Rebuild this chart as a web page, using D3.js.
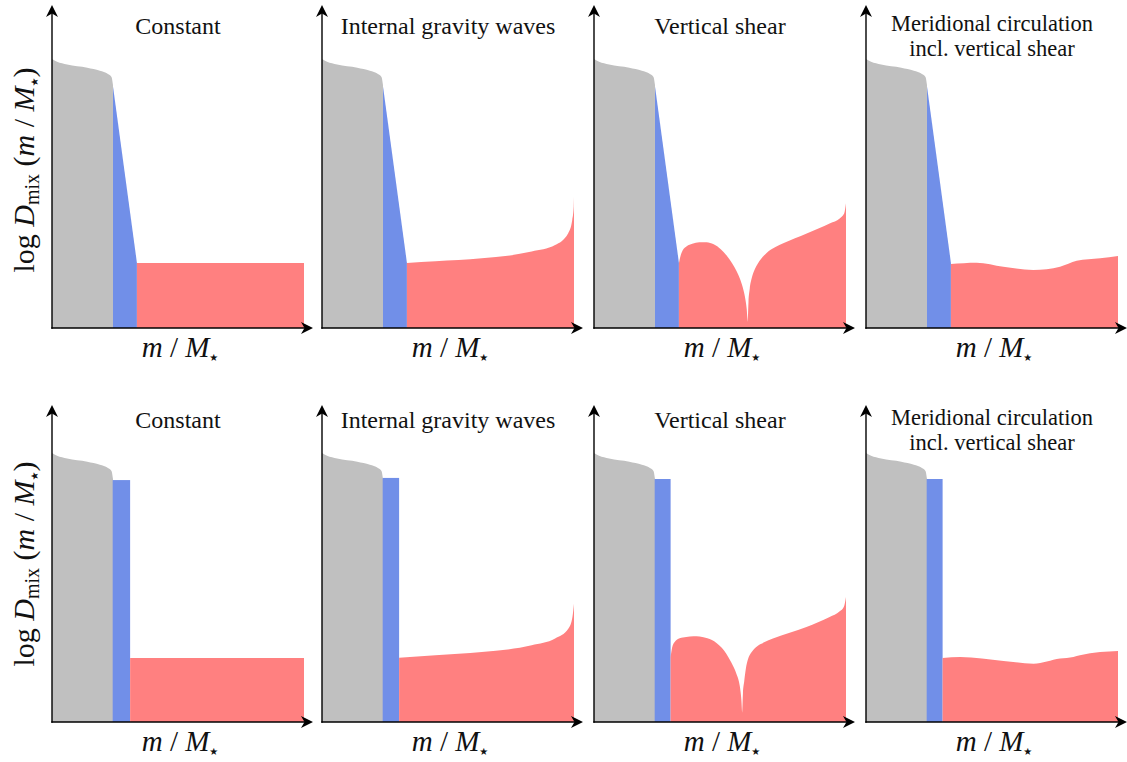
<!DOCTYPE html>
<html><head><meta charset="utf-8">
<script src="https://cdn.jsdelivr.net/npm/d3@7"></script>
<style>html,body{margin:0;padding:0;background:#fff;} svg{display:block}</style>
</head><body>
<svg id="c" width="1127" height="762"></svg>
<script>
// ---------- text ----------
const panelTitles = [["Constant"], ["Internal gravity waves"], ["Vertical shear"], ["Meridional circulation", "incl. vertical shear"]];

// ---------- convective core (gray), same in every panel ----------
const coreX = [0, 0.02, 0.06, 0.14, 0.19, 0.222, 0.236, 0.242];
const coreY = [0.996, 0.986, 0.976, 0.964, 0.953, 0.941, 0.93, 0.90];

// ---------- overshoot (blue) ----------
// top row: exponentially decaying overshoot
const ovTopX = [0.242, 0.337];
const ovTopY = [0.895, 0.241];
// bottom row: step overshoot (left edge, right edge) and height
const ovBotLeft = [0.242, 0.242, 0.242, 0.242];
const ovBotRight = [0.31, 0.306, 0.304, 0.304];
const ovBotHeight = [0.896, 0.904, 0.90, 0.90];

// ---------- envelope mixing (red), top row ----------
const constTopX = [0.337, 1.0];
const constTopY = [0.241, 0.241];
const igwTopX = [0.337, 0.45, 0.634, 0.832, 0.925, 0.977, 0.993, 0.999, 1.0];
const igwTopY = [0.241, 0.247, 0.258, 0.283, 0.307, 0.351, 0.40, 0.45, 0.486];
const shearTopX = [0.337, 0.342, 0.352, 0.368, 0.39, 0.418, 0.447, 0.475, 0.503, 0.527, 0.548, 0.566, 0.581, 0.593, 0.601, 0.606, 0.61, 0.613, 0.618, 0.626, 0.636, 0.648, 0.665, 0.685, 0.72, 0.751, 0.844, 0.937, 0.975, 0.993, 1.0];
const shearTopY = [0.24, 0.262, 0.288, 0.303, 0.312, 0.318, 0.318, 0.31, 0.292, 0.268, 0.24, 0.21, 0.178, 0.141, 0.105, 0.07, 0.023, 0.095, 0.145, 0.185, 0.213, 0.235, 0.258, 0.278, 0.3, 0.314, 0.35, 0.388, 0.406, 0.425, 0.462];
const merTopX = [0.337, 0.439, 0.545, 0.664, 0.77, 0.836, 0.929, 1.0];
const merTopY = [0.237, 0.242, 0.227, 0.215, 0.227, 0.249, 0.258, 0.267];

// ---------- envelope mixing (red), bottom row ----------
const constBotX = [0.31, 1.0];
const constBotY = [0.237, 0.237];
const igwBotX = [0.306, 0.45, 0.634, 0.832, 0.925, 0.978, 0.994, 1.0];
const igwBotY = [0.238, 0.247, 0.259, 0.284, 0.309, 0.346, 0.39, 0.438];
const shearBotX = [0.304, 0.309, 0.32, 0.34, 0.366, 0.395, 0.419, 0.45, 0.486, 0.507, 0.525, 0.545, 0.565, 0.575, 0.581, 0.585, 0.588, 0.591, 0.596, 0.603, 0.611, 0.625, 0.644, 0.675, 0.71, 0.843, 0.935, 0.975, 0.992, 1.0];
const shearBotY = [0.241, 0.27, 0.296, 0.31, 0.315, 0.318, 0.317, 0.31, 0.293, 0.275, 0.253, 0.22, 0.179, 0.15, 0.117, 0.08, 0.035, 0.105, 0.15, 0.2, 0.232, 0.258, 0.278, 0.295, 0.309, 0.352, 0.389, 0.41, 0.428, 0.463];
const merBotX = [0.304, 0.374, 0.546, 0.665, 0.77, 0.823, 0.849, 0.929, 1.0];
const merBotY = [0.237, 0.241, 0.226, 0.216, 0.235, 0.241, 0.247, 0.259, 0.263];

// ---------- layout ----------
const panelLeft = [52, 322, 594, 866];
const rowBase = [328, 722];
const rowTip = [5, 405];
const plotW = 252, plotH = 270, xArrow = 261;
const colGray = "#c0c0c0", colBlue = "#718fe8", colRed = "#ff8080";
const serif = "'Liberation Serif', 'Times New Roman', serif";

const svg = d3.select("#c");
const zip = (xs, ys) => xs.map((x, i) => [x, ys[i]]);

const redTop = [zip(constTopX, constTopY), zip(igwTopX, igwTopY), zip(shearTopX, shearTopY), zip(merTopX, merTopY)];
const redBot = [zip(constBotX, constBotY), zip(igwBotX, igwBotY), zip(shearBotX, shearBotY), zip(merBotX, merBotY)];

function arrowHead(g, x, y, angle) {
  g.append("path")
    .attr("d", "M0,0 L-12,-6 L-8.5,0 L-12,6 Z")
    .attr("transform", `translate(${x},${y}) rotate(${angle})`)
    .attr("fill", "#000");
}

function mathLabel(sel, parts) {
  parts.forEach(pt => {
    const t = sel.append("tspan").text(pt.t);
    if (pt.i) t.attr("font-style", "italic");
    if (pt.s) t.attr("font-size", pt.s);
    if (pt.dy) t.attr("dy", pt.dy);
    if (pt.f) t.attr("font-family", pt.f);
  });
}
const starFont = "'DejaVu Sans', sans-serif";

for (let r = 0; r < 2; r++) {
  for (let p = 0; p < 4; p++) {
    const x = d3.scaleLinear().domain([0, 1]).range([panelLeft[p], panelLeft[p] + plotW]);
    const y = d3.scaleLinear().domain([0, 1]).range([rowBase[r], rowBase[r] - plotH]);
    const g = svg.append("g");
    const smooth = d3.area().x(d => x(d[0])).y0(y(0)).y1(d => y(d[1])).curve(d3.curveMonotoneX);
    const lin = d3.area().x(d => x(d[0])).y0(y(0)).y1(d => y(d[1]));

    // core
    g.append("path").attr("d", smooth(zip(coreX, coreY))).attr("fill", colGray);
    // overshoot
    if (r === 0) {
      g.append("path").attr("d", lin(zip(ovTopX, ovTopY))).attr("fill", colBlue);
    } else {
      g.append("rect")
        .attr("x", x(ovBotLeft[p]) - 0.3).attr("y", y(ovBotHeight[p]))
        .attr("width", x(ovBotRight[p]) - x(ovBotLeft[p]) + 0.3)
        .attr("height", y(0) - y(ovBotHeight[p]))
        .attr("fill", colBlue);
    }
    // envelope
    const red = r === 0 ? redTop[p] : redBot[p];
    g.append("path").attr("d", (red.length > 2 ? smooth : lin)(red)).attr("fill", colRed);

    // axes
    const ox = panelLeft[p], oy = rowBase[r];
    g.append("line").attr("x1", ox).attr("y1", oy + 0.7).attr("x2", ox).attr("y2", rowTip[r] + 6)
      .attr("stroke", "#000").attr("stroke-width", 1.4);
    g.append("line").attr("x1", ox - 0.7).attr("y1", oy).attr("x2", ox + xArrow - 6).attr("y2", oy)
      .attr("stroke", "#000").attr("stroke-width", 1.4);
    arrowHead(g, ox, rowTip[r], -90);
    arrowHead(g, ox + xArrow, oy, 0);

    // title (one text element, wrapped onto lines with tspans)
    const cx = x(0.5);
    const lines = panelTitles[p];
    const multi = lines.length > 1;
    const t0 = rowBase[r] - (328 - 34) - (multi ? 3 : 0);
    const tt = g.append("text").attr("y", t0).attr("text-anchor", "middle")
      .attr("font-family", serif).attr("font-size", multi ? 22.5 : 24).attr("fill", "#111");
    lines.forEach((ln, i) => {
      tt.append("tspan").attr("x", cx).attr("dy", i === 0 ? 0 : 25).text(ln);
    });

    // x label
    const xl = g.append("text").attr("x", x(0.5) + 2).attr("y", rowBase[r] + 29).attr("text-anchor", "middle")
      .attr("font-family", serif).attr("font-size", 29).attr("fill", "#111");
    mathLabel(xl, [{t: "m", i: 1}, {t: " / "}, {t: "M", i: 1}, {t: "\u2605", s: 10, dy: 4, f: starFont}]);
  }
  // y label
  const yc = rowBase[r] - 158;
  const yl = svg.append("text").attr("transform", `translate(34,${yc}) rotate(-90)`).attr("text-anchor", "middle")
    .attr("font-family", serif).attr("font-size", 30).attr("fill", "#111");
  mathLabel(yl, [{t: "log "}, {t: "D", i: 1}, {t: "mix", s: 20, dy: 5}, {t: " (", dy: -5}, {t: "m", i: 1},
    {t: " / "}, {t: "M", i: 1}, {t: "\u2605", s: 10, dy: 4, f: starFont}, {t: ")", dy: -4}]);
}
</script>
</body></html>
